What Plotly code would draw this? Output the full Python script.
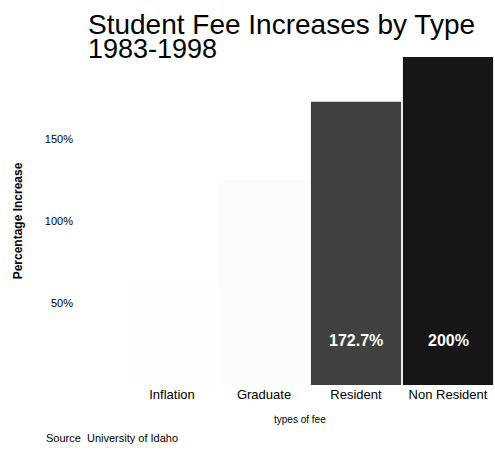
import plotly.graph_objects as go

categories = ["Inflation", "Graduate", "Resident", "Non Resident"]
values = [60, 125, 172.7, 200]
labels = ["", "", "172.7%", "200%"]
colors = ["#fdfdfd", "#fcfcfc", "#404040", "#161616"]
tick_vals = [50, 100, 150]
tick_text = ["50%", "100%", "150%"]
title_lines = ["Student Fee Increases by Type", "1983-1998"]

FONT = "Liberation Sans, Arial"

fig = go.Figure()
fig.add_trace(go.Bar(
    x=categories, y=values, marker_color=colors, marker_line_width=0,
    hoverinfo="x+y", showlegend=False,
))
for c, v, t in zip(categories, values, labels):
    if t:
        fig.add_annotation(x=c, y=27, text="<b>" + t + "</b>", showarrow=False,
                           font=dict(family=FONT, size=16, color="white"))

# title lines
fig.add_annotation(xref="paper", yref="paper", x=-40/368, y=1 + 50/328, xanchor="left", yanchor="top",
                   text=title_lines[0], showarrow=False,
                   font=dict(family=FONT, size=28, color="black"))
fig.add_annotation(xref="paper", yref="paper", x=-40/368, y=1 + 25/328, xanchor="left", yanchor="top",
                   text=title_lines[1], showarrow=False,
                   font=dict(family=FONT, size=27, color="black"))

fig.add_annotation(xref="paper", yref="paper", x=174/368, y=-27/328, xanchor="center", yanchor="top",
                   text="types of fee", showarrow=False,
                   font=dict(family=FONT, size=10, color="black"))
fig.add_annotation(xref="paper", yref="paper", x=-82/368, y=-45/328, xanchor="left", yanchor="top",
                   text="Source  University of Idaho", showarrow=False,
                   font=dict(family=FONT, size=11, color="black"))

fig.update_layout(
    width=495, height=450,
    margin=dict(l=126, r=1, t=57, b=65),
    paper_bgcolor="white", plot_bgcolor="white",
    bargap=0.02,
    xaxis=dict(showgrid=False, showline=False, ticks="", automargin=False,
               tickfont=dict(family=FONT, size=13, color="black")),
    yaxis=dict(range=[0, 200], showgrid=False, showline=False, zeroline=False, ticks="",
               automargin=False,
               tickvals=tick_vals, ticktext=tick_text, ticklabelstandoff=52,
               tickfont=dict(family=FONT, size=11, color="black"),
               title=dict(text="<b>Percentage Increase</b>", standoff=19,
                          font=dict(family=FONT, size=12, color="black"))),
)
fig.write_html("out.html", config={"displayModeBar": False},
               post_script="document.body.style.margin='0';document.body.style.overflow='hidden';")
